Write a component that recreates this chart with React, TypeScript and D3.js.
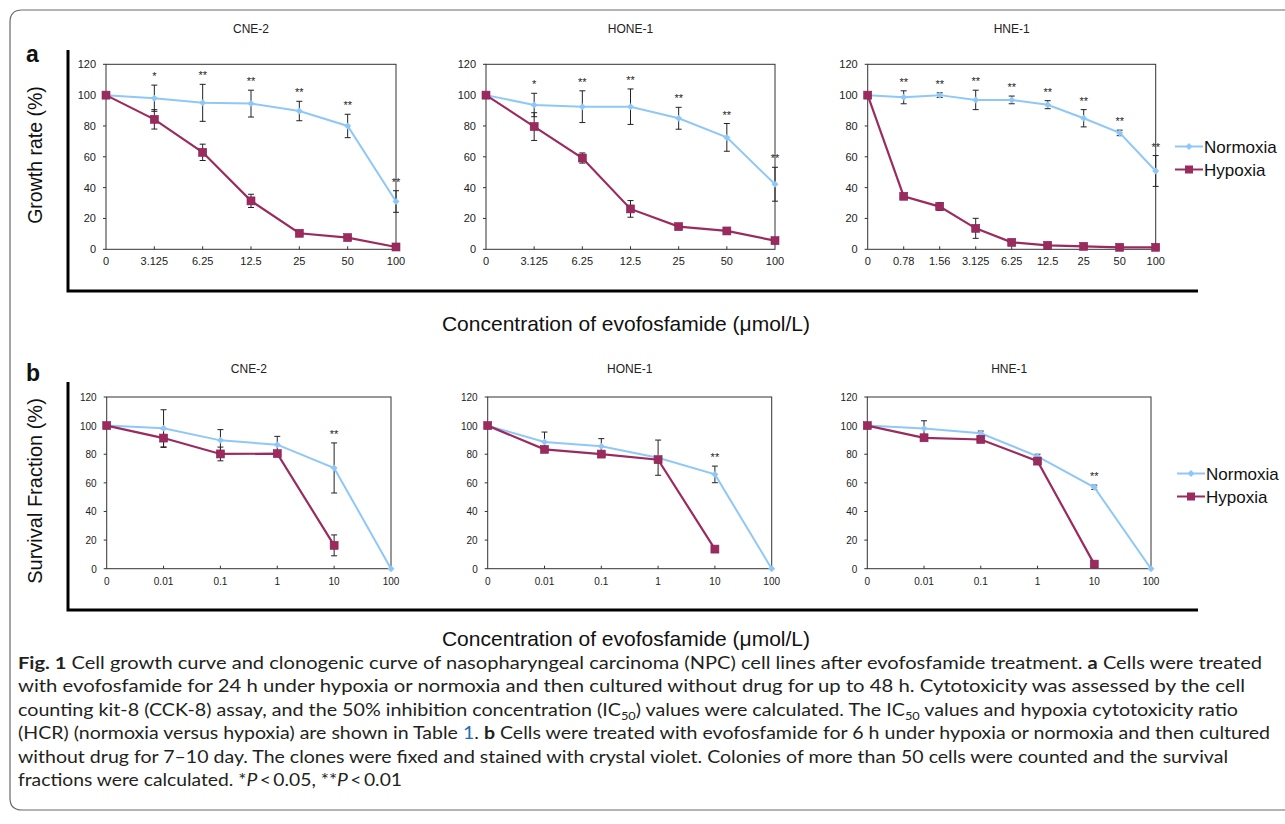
import React from 'react';
import * as d3 from 'd3';

// dose categories (umol/L)
const growthDoses = ['0', '3.125', '6.25', '12.5', '25', '50', '100'];
const growthDosesHne1 = ['0', '0.78', '1.56', '3.125', '6.25', '12.5', '25', '50', '100'];
const clonoDoses = ['0', '0.01', '0.1', '1', '10', '100'];
const yTicks = [0, 20, 40, 60, 80, 100, 120];

// panel a: growth rate (%), mean and error
const cne2GrowthNormoxia = [100, 98, 95, 94.5, 89.7, 80, 31];
const cne2GrowthNormoxiaErr = [0, 8.5, 12, 8.7, 6.3, 7.6, 7];
const cne2GrowthHypoxia = [100, 84.3, 62.9, 31.4, 10.4, 7.6, 1.5];
const cne2GrowthHypoxiaErr = [0, 6.3, 5.3, 4.3, 1, 1, 0.5];
const cne2GrowthStars = ['', '*', '**', '**', '**', '**', '**'];

const hone1GrowthNormoxia = [100, 93.6, 92.5, 92.5, 85, 72.6, 42.2];
const hone1GrowthNormoxiaErr = [0, 7.6, 10.3, 11.5, 7.1, 9, 11];
const hone1GrowthHypoxia = [100, 79.6, 59.2, 26.2, 14.7, 11.9, 5.6];
const hone1GrowthHypoxiaErr = [0, 9, 3.3, 5.4, 1, 1, 0.5];
const hone1GrowthStars = ['', '*', '**', '**', '**', '**', '**'];

const hne1GrowthNormoxia = [100, 98.6, 100, 96.9, 96.9, 93.8, 85, 75.5, 50.8];
const hne1GrowthNormoxiaErr = [0, 4.2, 1.5, 6.3, 2.5, 2.6, 5.6, 1.8, 10];
const hne1GrowthHypoxia = [100, 34.4, 27.7, 13.6, 4.5, 2.6, 1.9, 1.3, 1.3];
const hne1GrowthHypoxiaErr = [0, 1.5, 2.5, 6.5, 0.5, 0.5, 0.5, 0.5, 0.5];
const hne1GrowthStars = ['', '**', '**', '**', '**', '**', '**', '**', '**'];

// panel b: survival fraction (%)
const cne2ClonoNormoxia = [100, 98.1, 89.7, 86.7, 70.4, 0];
const cne2ClonoNormoxiaErr = [0, 13, 7.5, 5.8, 17.5, 0];
const cne2ClonoHypoxia = [100, 91.3, 80.2, 80.4, 16.3, null];
const cne2ClonoHypoxiaErr = [0, 6.5, 4.8, 1.5, 7.3, 0];
const cne2ClonoStars = ['', '', '', '', '**', ''];

const hone1ClonoNormoxia = [100, 88.5, 85.5, 77.6, 65.9, 0];
const hone1ClonoNormoxiaErr = [0, 7, 5.4, 12.3, 5.8, 0];
const hone1ClonoHypoxia = [100, 83.4, 80.1, 76.2, 13.7, null];
const hone1ClonoHypoxiaErr = [0, 1, 1, 1, 1, 0];
const hone1ClonoStars = ['', '', '', '', '**', ''];

const hne1ClonoNormoxia = [100, 97.9, 94.7, 78.5, 56.9, 0];
const hne1ClonoNormoxiaErr = [0, 5.5, 1.5, 1.5, 1.5, 0];
const hne1ClonoHypoxia = [100, 91.5, 90.3, 75.2, 3.2, null];
const hne1ClonoHypoxiaErr = [0, 1, 1, 1, 1, 0];
const hne1ClonoStars = ['', '', '', '', '**', ''];

const seriesNames = ['Normoxia', 'Hypoxia'];

// caption, one entry per printed line
const captionLines = [
  [{ t: 'Fig. 1', b: true }, { t: '  Cell growth curve and clonogenic curve of nasopharyngeal carcinoma (NPC) cell lines after evofosfamide treatment. ' }, { t: 'a', b: true }, { t: ' Cells were treated' }],
  [{ t: 'with evofosfamide for 24 h under hypoxia or normoxia and then cultured without drug for up to 48 h. Cytotoxicity was assessed by the cell' }],
  [{ t: 'counting kit-8 (CCK-8) assay, and the 50% inhibition concentration (IC' }, { t: '50', sub: true }, { t: ') values were calculated. The IC' }, { t: '50', sub: true }, { t: ' values and hypoxia cytotoxicity ratio' }],
  [{ t: '(HCR) (normoxia versus hypoxia) are shown in Table ' }, { t: '1', link: true }, { t: '. ' }, { t: 'b', b: true }, { t: ' Cells were treated with evofosfamide for 6 h under hypoxia or normoxia and then cultured' }],
  [{ t: 'without drug for 7\u201310 day. The clones were fixed and stained with crystal violet. Colonies of more than 50 cells were counted and the survival' }],
  [{ t: 'fractions were calculated. *' }, { t: 'P', i: true }, { t: '\u2009<\u20090.05, **' }, { t: 'P', i: true }, { t: '\u2009<\u20090.01' }],
];
const captionWidths = [1244, 1227, 1220, 1252, 1210, 384];

const NORM = '#8fc8f8';
const HYP = '#9b2b5f';
const FONT = "'Liberation Sans', Arial, sans-serif";

type Props = {
  doses: string[];
  norm: (number | null)[];
  normErr: number[];
  hyp: (number | null)[];
  hypErr: number[];
  stars: string[];
  x0: number; x1: number; y0: number; y1: number;
  title: string; titleY: number; fs: number;
};

const Plot = (props: Props) => {
  const { doses, norm, normErr, hyp, hypErr, stars, x0, x1, y0, y1, title, titleY, fs } = props;
  const x = d3.scalePoint<string>().domain(doses).range([x0, x1]);
  const y = d3.scaleLinear().domain([0, 120]).range([y1, y0]);
  const line = d3.line<number | null>()
    .defined(d => d != null)
    .x((d, i) => x(doses[i])!)
    .y(d => y(d as number));

  const errBars = (vals: (number | null)[], errs: number[], key: string) =>
    vals.map((v, i) => {
      if (v == null || !errs[i]) return null;
      const cx = x(doses[i])!;
      const a = y(v + errs[i]), b = y(v - errs[i]);
      return (
        <g key={key + i} stroke="#222" strokeWidth={1}>
          <line x1={cx} x2={cx} y1={a} y2={b} />
          <line x1={cx - 3} x2={cx + 3} y1={a} y2={a} />
          <line x1={cx - 3} x2={cx + 3} y1={b} y2={b} />
        </g>
      );
    });

  return (
    <g fontFamily={FONT}>
      <text x={(x0 + x1) / 2} y={titleY} fontSize={12} textAnchor="middle" fill="#222">{title}</text>
      <rect x={x0} y={y0} width={x1 - x0} height={y1 - y0} fill="none" stroke="#333" strokeWidth={1} />
      {yTicks.map(t => (
        <g key={'y' + t}>
          <line x1={x0 - 3} x2={x0} y1={y(t)} y2={y(t)} stroke="#333" />
          <text x={x0 - 10} y={y(t) + 4} fontSize={fs} textAnchor="end" fill="#222">{t}</text>
        </g>
      ))}
      {doses.map((d, i) => (
        <g key={'x' + d}>
          {i > 0 && i < doses.length - 1 && (
            <line x1={x(d)!} x2={x(d)!} y1={y1} y2={y1 - 3} stroke="#333" />
          )}
          <text x={x(d)!} y={y1 + 16} fontSize={fs} textAnchor="middle" fill="#222">{d}</text>
        </g>
      ))}
      {errBars(norm, normErr, 'en')}
      {errBars(hyp, hypErr, 'eh')}
      <path d={line(norm) || ''} fill="none" stroke={NORM} strokeWidth={2} />
      {norm.map((v, i) => v == null ? null : (
        <path key={'dn' + i}
          d={`M${x(doses[i])! - 3.5},${y(v)}L${x(doses[i])!},${y(v) - 3.5}L${x(doses[i])! + 3.5},${y(v)}L${x(doses[i])!},${y(v) + 3.5}Z`}
          fill={NORM} />
      ))}
      <path d={line(hyp) || ''} fill="none" stroke={HYP} strokeWidth={2.2} />
      {hyp.map((v, i) => v == null ? null : (
        <rect key={'sq' + i} x={x(doses[i])! - 4} y={y(v) - 4} width={8} height={8}
          fill={HYP} stroke="#8a2454" strokeWidth={0.6} />
      ))}
      {stars.map((s, i) => s ? (
        <text key={'s' + i} x={x(doses[i])!}
          y={y((norm[i] as number) + normErr[i]) - 5}
          fontSize={11} textAnchor="middle" fill="#222">{s}</text>
      ) : null)}
    </g>
  );
};

const Legend = ({ x, y }: { x: number; y: number }) => (
  <g fontFamily={FONT} fontSize={17} fill="#111">
    {seriesNames.map((name, i) => {
      const cy = y + i * 23;
      return (
        <g key={name}>
          <line x1={x} x2={x + 28} y1={cy} y2={cy} stroke={i === 0 ? NORM : HYP} strokeWidth={2} />
          {i === 0
            ? <path d={`M${x + 10.5},${cy}L${x + 14},${cy - 3.5}L${x + 17.5},${cy}L${x + 14},${cy + 3.5}Z`} fill={NORM} />
            : <rect x={x + 10} y={cy - 4} width={8} height={8} fill={HYP} />}
          <text x={x + 29} y={cy + 6}>{name}</text>
        </g>
      );
    })}
  </g>
);

const App = () => {
  const aTop = 64.3, aBot = 249.3;
  const bTop = 397, bBot = 568.7;
  return (
    <svg width={1285} height={824} style={{ position: 'absolute', left: 0, top: 0, background: '#fff' }}>
      <rect width={1285} height={824} fill="#fff" />
      <path d="M1300,10 H22 Q10,10 10,22 V798 Q10,810 22,810 H1300" fill="none" stroke="#6a6a6a" strokeWidth={1.2} />

      {/* panel a */}
      <text x={26} y={62} fontFamily={FONT} fontWeight="bold" fontSize={23} fill="#111">a</text>
      <path d="M68,50 V291 H1198" fill="none" stroke="#000" strokeWidth={3} />
      <text transform="translate(42,155) rotate(-90)" fontFamily={FONT} fontSize={19.5} textAnchor="middle" fill="#111">Growth rate (%)</text>
      <Plot doses={growthDoses} norm={cne2GrowthNormoxia} normErr={cne2GrowthNormoxiaErr}
        hyp={cne2GrowthHypoxia} hypErr={cne2GrowthHypoxiaErr} stars={cne2GrowthStars}
        x0={106} x1={396} y0={aTop} y1={aBot} title="CNE-2" titleY={33} fs={11} />
      <Plot doses={growthDoses} norm={hone1GrowthNormoxia} normErr={hone1GrowthNormoxiaErr}
        hyp={hone1GrowthHypoxia} hypErr={hone1GrowthHypoxiaErr} stars={hone1GrowthStars}
        x0={486} x1={775} y0={aTop} y1={aBot} title="HONE-1" titleY={33} fs={11} />
      <Plot doses={growthDosesHne1} norm={hne1GrowthNormoxia} normErr={hne1GrowthNormoxiaErr}
        hyp={hne1GrowthHypoxia} hypErr={hne1GrowthHypoxiaErr} stars={hne1GrowthStars}
        x0={867.7} x1={1155.7} y0={aTop} y1={aBot} title="HNE-1" titleY={33} fs={11} />
      <Legend x={1175} y={146.5} />
      <text x={626} y={331} fontFamily={FONT} fontSize={21} textAnchor="middle" fill="#111">Concentration of evofosfamide (μmol/L)</text>

      {/* panel b */}
      <text x={26} y={381} fontFamily={FONT} fontWeight="bold" fontSize={23} fill="#111">b</text>
      <path d="M68,382 V610 H1198" fill="none" stroke="#000" strokeWidth={3} />
      <text transform="translate(42,491) rotate(-90)" fontFamily={FONT} fontSize={20} textAnchor="middle" fill="#111">Survival Fraction (%)</text>
      <Plot doses={clonoDoses} norm={cne2ClonoNormoxia} normErr={cne2ClonoNormoxiaErr}
        hyp={cne2ClonoHypoxia} hypErr={cne2ClonoHypoxiaErr} stars={cne2ClonoStars}
        x0={106.7} x1={391} y0={bTop} y1={bBot} title="CNE-2" titleY={373} fs={10} />
      <Plot doses={clonoDoses} norm={hone1ClonoNormoxia} normErr={hone1ClonoNormoxiaErr}
        hyp={hone1ClonoHypoxia} hypErr={hone1ClonoHypoxiaErr} stars={hone1ClonoStars}
        x0={487.7} x1={771.7} y0={bTop} y1={bBot} title="HONE-1" titleY={373} fs={10} />
      <Plot doses={clonoDoses} norm={hne1ClonoNormoxia} normErr={hne1ClonoNormoxiaErr}
        hyp={hne1ClonoHypoxia} hypErr={hne1ClonoHypoxiaErr} stars={hne1ClonoStars}
        x0={867.3} x1={1151} y0={bTop} y1={bBot} title="HNE-1" titleY={373} fs={10} />
      <Legend x={1177} y={473.5} />
      <text x={626} y={646} fontFamily={FONT} fontSize={21} textAnchor="middle" fill="#111">Concentration of evofosfamide (μmol/L)</text>

      {/* caption */}
      <g fontFamily="Lato, 'Open Sans', sans-serif" fontSize={17} fill="#231f20">
        {captionLines.map((segs, li) => (
          <text key={li} x={18} y={669 + li * 23.4} textLength={captionWidths[li]} lengthAdjust="spacingAndGlyphs">
            {segs.map((s: any, si) => (
              <tspan key={si}
                fontWeight={s.b ? 'bold' : undefined}
                fontStyle={s.i ? 'italic' : undefined}
                fill={s.link ? '#1f6fb8' : undefined}
                fontSize={s.sub ? 11 : undefined}
                dy={s.sub ? 4 : (si > 0 && segs[si - 1].sub ? -4 : undefined)}>{s.t}</tspan>
            ))}
          </text>
        ))}
      </g>
    </svg>
  );
};

export default App;
